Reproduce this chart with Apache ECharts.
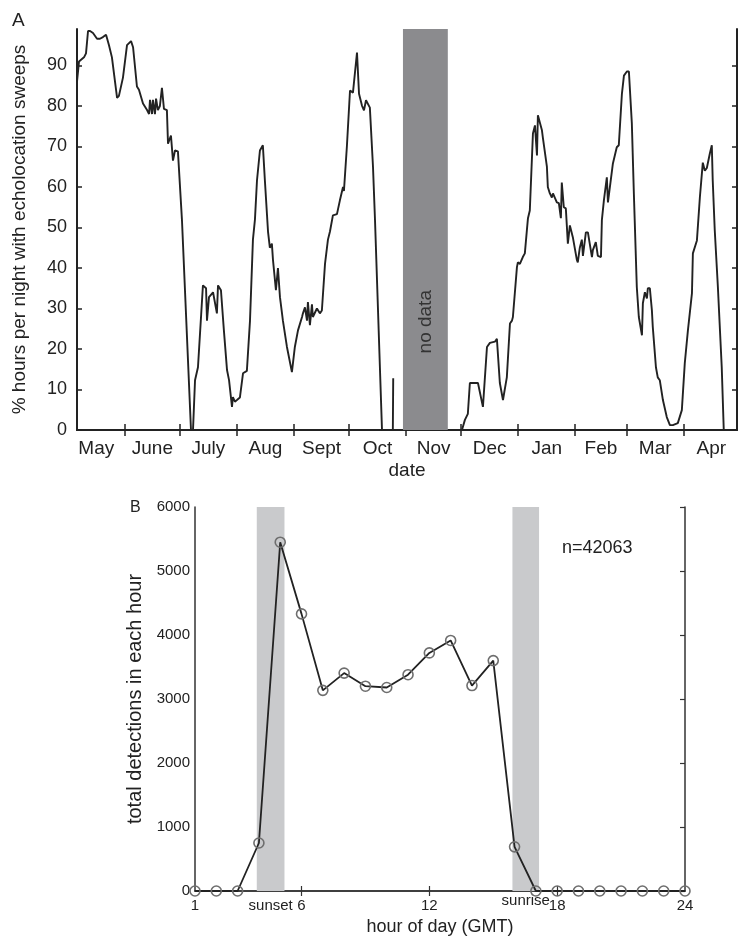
<!DOCTYPE html>
<html>
<head>
<meta charset="utf-8">
<script src="https://cdn.jsdelivr.net/npm/echarts@6/dist/echarts.min.js"></script>
<style>
html,body{margin:0;padding:0;background:#fff;}
#chart{width:738px;height:937px;}
</style>
</head>
<body>
<div id="chart"></div>
<script>
// ---------- Panel A data (day index counted from 1 May) ----------
const monthNames = ['May','June','July','Aug','Sept','Oct','Nov','Dec','Jan','Feb','Mar','Apr'];
const monthStarts = [31,61,92,123,153,184,214,245,276,304,335];
const monthMids = [15.5,46,76.5,107.5,138,168.5,199,229.5,260.5,290,319.5,350];
const pctTicks = [0,10,20,30,40,50,60,70,80,90];
const noDataSpan = [182.3, 206.7];
const noDataLabel = 'no data';

const daysA1 = [5.0,6.1,8.8,9.9,11.0,12.1,13.7,15.9,17.5,19.1,
 20.8,22.4,24.0,26.8,27.8,30.0,32.2,34.4,35.5,37.6,
 38.7,40.9,43.1,44.2,44.7,45.8,46.3,47.4,48.0,49.0,
 50.1,51.2,52.3,53.9,54.5,56.1,57.2,58.3,59.9,62.1,
 67.0,68.1,69.2,70.8,73.5,75.2,75.7,76.8,79.0,81.1,
 81.7,83.3,84.9,86.6,87.7,89.3,89.8,90.9,92.0,93.6,
 95.3,97.4,99.1,100.7,101.8,102.9,103.4,104.5,106.1,107.2,
 108.9,109.9,111.0,111.6,113.2,114.3,115.4,117.0,119.2,121.9,
 123.5,125.2,127.4,127.9,129.0,130.1,130.6,131.7,132.8,133.3,
 135.5,137.1,138.2,139.9,141.5,142.6,144.2,146.4,148.0,149.7,
 150.2,151.8,153.5,154.5,155.1,157.3,158.4,160.0,161.1,162.2,
 163.2,164.3,166.0,167.1,170.9,176.8,177.0];
const pctA1 = [86,91,92,93,98.5,98.5,98,96.6,96.6,97,
 97.6,95,92,82,82.5,87,95,96,94.5,84.8,
 84,80.6,79,78,81.5,78,81.5,78,81.8,79,
 80,84.5,79.3,79,70.7,72.7,66.5,69,68.8,51.8,
 0,0,12.3,15.5,35.7,35,27,32.8,34,28.8,
 35.7,34.5,24.6,14.8,12.3,5.7,8.1,7,7.4,8,
 14,14.6,27,47,52,61.6,61.6,69,70.3,61.6,
 49,45,46,42,34.5,40,32.8,27,20.5,14.3,
 20.5,24.6,27.9,28.8,30.3,27,31.6,25.9,31,27.9,
 30,28.8,29.5,41,47,49,53,53.3,56.7,60,
 59,70,83.8,84.2,83.3,93.2,83,80.1,78.9,81.4,
 81.4,79.6,65,51.8,0,0,12.8];

const daysA2 = [214.4,216.0,217.6,218.7,223.1,225.8,228.0,229.6,232.3,233.4,
 235.0,236.7,238.8,240.5,241.6,242.1,244.3,244.8,245.9,247.5,
 248.6,249.7,250.3,251.3,253.0,254.1,255.2,255.7,257.9,258.4,
 260.6,261.1,262.2,263.3,263.9,266.0,267.1,268.2,268.7,269.8,
 270.9,272.0,273.1,274.7,276.9,277.4,278.5,279.6,280.2,281.8,
 282.9,285.1,285.6,287.2,288.3,290.0,290.5,291.6,293.2,293.8,
 294.8,296.5,298.6,299.7,301.4,302.5,304.1,305.2,306.8,307.9,
 309.5,310.6,312.3,312.8,313.9,315.0,315.5,316.6,317.7,318.2,
 319.9,320.9,322.0,323.7,325.8,327.5,329.1,331.8,334.0,335.6,
 337.3,339.5,340.0,342.2,343.8,345.4,346.5,347.6,349.2,350.3,
 350.8,351.9,353.6,355.7,356.8];
const pctA2 = [0,2.5,4,11.6,11.6,5.7,20.5,21.5,21.8,22.5,
 11.6,7.4,13,26.3,27,27.9,40.2,41.4,41,42.7,
 43.6,49.3,52.3,54.2,73.2,75.2,67.8,77.7,74,72.2,
 65,60,58.4,57.4,58.4,56.2,56,52.3,61.1,55,
 54.7,46,50.5,47.6,42,41.4,45,47,43,48.8,
 48.8,42.7,44.4,46.4,43,42.7,51.8,56.7,62.4,56.2,
 56,65.8,69.8,70.3,83,87.5,88.5,88.5,75.7,58.4,
 35.3,27.9,23.4,31.3,34,32.5,35,35,29.6,25.4,
 15.5,13,12.3,7.4,3.2,1.2,1.2,1.7,4.9,16.5,
 24.6,33.8,43.6,46.8,57.4,66,64,64.7,68.2,70.3,
 61.6,49.3,35.3,15.5,0];

// ---------- Panel B data ----------
const hours = [1,2,3,4,5,6,7,8,9,10,11,12,13,14,15,16,17,18,19,20,21,22,23,24];
const detections = [0,0,0,750,5450,4330,3135,3405,3200,3180,3380,3720,3915,3210,3600,690,0,0,0,0,0,0,0,0];
const hourTicks = [6,12,18];
const hourLabels = [1,6,12,18,24];
const bandSpans = [[3.9,5.2],[15.9,17.15]];
const bandLabels = ['sunset','sunrise'];
const countNote = 'n=42063';

const FONT = "'Liberation Sans', Arial, sans-serif";
const INK = '#222';

function pairs(xs, ys){ return xs.map((x,i)=>[x, ys[i]]); }

const chart = echarts.init(document.getElementById('chart'), null, {renderer:'canvas'});

const option = {
  backgroundColor: '#fff',
  animation: false,
  textStyle: {fontFamily: FONT, color: INK},
  grid: [
    {left:77, top:29, width:660, height:401},
    {left:195, top:507, width:490, height:385}
  ],
  xAxis: [
    {gridIndex:0, type:'value', position:'bottom', min:5, max:364,
     axisLine:{lineStyle:{color:INK, width:2}},
     axisTick:{inside:true, length:6, customValues:monthStarts, lineStyle:{color:INK, width:1.5}},
     axisLabel:{customValues:monthMids, formatter:v=>monthNames[monthMids.indexOf(v)], fontSize:19, color:INK, margin:9, fontFamily:FONT},
     splitLine:{show:false},
     name:'date', nameLocation:'middle', nameGap:31,
     nameTextStyle:{fontSize:19, color:INK, fontFamily:FONT}},
    {gridIndex:0, type:'value', position:'top', min:5, max:364,
     axisLine:{lineStyle:{color:INK, width:2}},
     axisTick:{inside:true, length:6, customValues:monthStarts, lineStyle:{color:INK, width:1.5}},
     axisLabel:{show:false}, splitLine:{show:false}},
    {gridIndex:1, type:'value', position:'bottom', min:1, max:24,
     axisLine:{lineStyle:{color:'#333', width:1.5}},
     axisTick:{inside:true, length:5, customValues:hourTicks, lineStyle:{color:'#333', width:1.2}},
     axisLabel:{customValues:hourLabels, fontSize:15, color:INK, margin:7, fontFamily:FONT},
     splitLine:{show:false},
     name:'hour of day (GMT)', nameLocation:'middle', nameGap:27,
     nameTextStyle:{fontSize:18, color:INK, fontFamily:FONT}},
    {gridIndex:1, type:'value', position:'top', min:1, max:24,
     axisLine:{lineStyle:{color:'#333', width:1.5}},
     axisTick:{inside:true, length:5, customValues:hourTicks, lineStyle:{color:'#333', width:1.2}},
     axisLabel:{show:false}, splitLine:{show:false}}
  ],
  yAxis: [
    {gridIndex:0, type:'value', position:'left', min:0, max:99,
     axisLine:{show:true, lineStyle:{color:INK, width:2}},
     axisTick:{show:true, inside:true, length:5, customValues:pctTicks, lineStyle:{color:INK, width:1.5}},
     axisLabel:{customValues:pctTicks, fontSize:18, color:INK, margin:10, fontFamily:FONT},
     splitLine:{show:false},
     name:'% hours per night with echolocation sweeps', nameLocation:'middle', nameGap:48,
     nameTextStyle:{fontSize:19, color:INK, fontFamily:FONT}},
    {gridIndex:0, type:'value', position:'right', min:0, max:99,
     axisLine:{show:true, lineStyle:{color:INK, width:2}},
     axisTick:{show:true, inside:true, length:5, customValues:pctTicks, lineStyle:{color:INK, width:1.5}},
     axisLabel:{show:false}, splitLine:{show:false}},
    {gridIndex:1, type:'value', position:'left', min:0, max:6000, interval:1000,
     axisLine:{show:true, lineStyle:{color:'#333', width:1.5}},
     axisTick:{show:false},
     axisLabel:{fontSize:15, color:INK, margin:5, fontFamily:FONT, formatter:v=>String(v)},
     splitLine:{show:false},
     name:'total detections in each hour', nameLocation:'middle', nameGap:37,
     nameTextStyle:{fontSize:20, color:INK, fontFamily:FONT}},
    {gridIndex:1, type:'value', position:'right', min:0, max:6000, interval:1000,
     axisLine:{show:true, lineStyle:{color:'#333', width:1.5}},
     axisTick:{show:true, inside:true, length:5, lineStyle:{color:'#333', width:1.2}},
     axisLabel:{show:false}, splitLine:{show:false}}
  ],
  series: [
    {type:'line', xAxisIndex:0, yAxisIndex:0, data:pairs(daysA1, pctA1),
     showSymbol:false, symbol:'none', lineStyle:{color:INK, width:1.9}, z:3,
     markArea:{silent:true,
       itemStyle:{color:'#8b8b8e'},
       label:{show:true, formatter:noDataLabel, rotate:90, position:['50%','73%'],
              align:'center', verticalAlign:'middle', fontSize:19, color:'#333', fontFamily:FONT},
       data:[[{xAxis:noDataSpan[0]},{xAxis:noDataSpan[1]}]]}},
    {type:'line', xAxisIndex:0, yAxisIndex:0, data:pairs(daysA2, pctA2),
     showSymbol:false, symbol:'none', lineStyle:{color:INK, width:1.9}, z:3},
    {type:'line', xAxisIndex:2, yAxisIndex:2, data:pairs(hours, detections),
     symbol:'circle', symbolSize:10, showSymbol:true, clip:false,
     itemStyle:{color:'rgba(0,0,0,0)', borderColor:'#6e6e6e', borderWidth:1.6},
     lineStyle:{color:INK, width:1.8}, z:3,
     markArea:{silent:true,
       itemStyle:{color:'#c9cacc'},
       data:[
         [{xAxis:bandSpans[0][0], label:{show:true, formatter:bandLabels[0], position:'bottom', distance:7, fontSize:15, color:INK, fontFamily:FONT}},{xAxis:bandSpans[0][1]}],
         [{xAxis:bandSpans[1][0], label:{show:true, formatter:bandLabels[1], position:'bottom', distance:2, fontSize:15, color:INK, fontFamily:FONT}},{xAxis:bandSpans[1][1]}]
       ]}}
  ],
  graphic: [
    {type:'text', left:12, top:11, style:{text:'A', fontSize:19, fill:INK, fontFamily:FONT}},
    {type:'text', left:130, top:500, style:{text:'B', fontSize:16, fill:INK, fontFamily:FONT}},
    {type:'text', left:562, top:539, style:{text:countNote, fontSize:18, fill:INK, fontFamily:FONT}}
  ]
};
chart.setOption(option);
</script>
</body>
</html>
